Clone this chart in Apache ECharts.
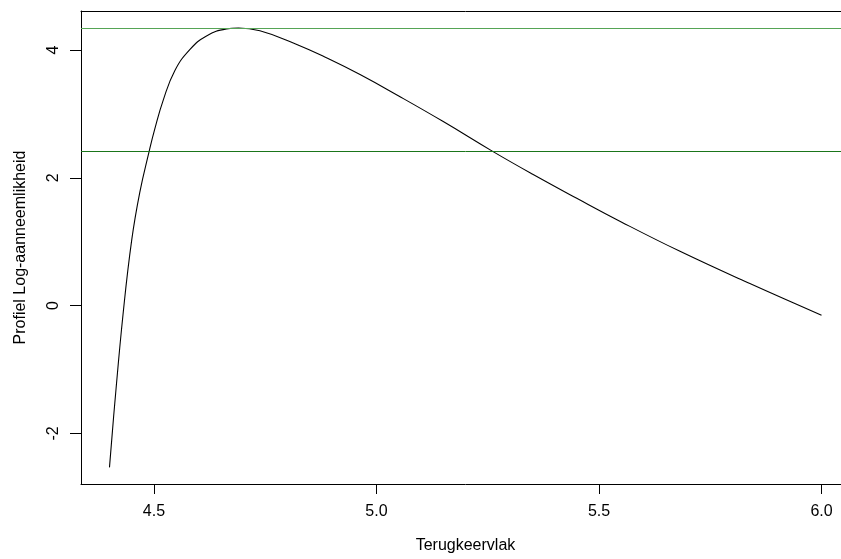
<!DOCTYPE html>
<html>
<head>
<meta charset="utf-8">
<script src="https://cdn.jsdelivr.net/npm/echarts@6/dist/echarts.min.js"></script>
<style>
  html, body { margin: 0; padding: 0; background: #fff; overflow: hidden; }
  #chart { width: 860px; height: 559px; }
</style>
</head>
<body>
<div id="chart"></div>
<script>
// Profile log-likelihood over the return-level parameter
const returnLevel = [4.40, 4.412, 4.431, 4.450, 4.468, 4.489, 4.502, 4.521, 4.547, 4.581,
  4.618, 4.663, 4.69, 4.738, 4.813, 4.89, 4.963, 5.05, 5.15, 5.262, 5.35, 5.45, 5.55,
  5.682, 5.839, 6.0];
const profileLogLik = [-2.53, -1.52, -0.10, 1.03, 1.77, 2.41, 2.77, 3.22, 3.68, 4.01,
  4.22, 4.33, 4.345, 4.30, 4.11, 3.87, 3.615, 3.28, 2.88, 2.41, 2.06, 1.68, 1.31,
  0.85, 0.345, -0.15];

// Horizontal reference levels: maximum and the 95% cut-off
const maxLevel = 4.345;
const cutoffLevel = 2.425;

const xTicks = [4.5, 5.0, 5.5, 6.0];
const yTicks = [-2, 0, 2, 4];

const xTitle = 'Terugkeervlak';
const yTitle = 'Profiel Log-aanneemlikheid';

const points = returnLevel.map((x, i) => [x, profileLogLik[i]]);

const font = '"Liberation Sans", Arial, sans-serif';
const xRange = { min: 4.336, max: 6.064 };
const frameLine = { show: true, onZero: false, lineStyle: { color: '#000', width: 1 } };

const chart = echarts.init(document.getElementById('chart'), null, { renderer: 'canvas' });
chart.setOption({
  animation: false,
  backgroundColor: '#fff',
  grid: { left: 81, top: 11, right: 10, bottom: 75, show: false },
  xAxis: [{
    type: 'value',
    position: 'bottom',
    min: xRange.min, max: xRange.max,
    name: xTitle,
    nameLocation: 'middle',
    nameGap: 54,
    nameTextStyle: { fontFamily: font, fontSize: 16, color: '#000' },
    axisLine: frameLine,
    splitLine: { show: false },
    axisTick: { show: true, inside: false, length: 10, customValues: xTicks,
      lineStyle: { color: '#000', width: 1 } },
    axisLabel: { customValues: xTicks, margin: 20, fontFamily: font, fontSize: 16, color: '#000',
      formatter: v => v.toFixed(1) }
  }, {
    // top edge of the plot frame
    type: 'value',
    position: 'top',
    min: xRange.min, max: xRange.max,
    axisLine: frameLine,
    axisTick: { show: false },
    axisLabel: { show: false },
    splitLine: { show: false }
  }],
  yAxis: {
    type: 'value',
    min: -2.79, max: 4.61,
    name: yTitle,
    nameLocation: 'middle',
    nameGap: 52,
    nameRotate: 90,
    nameTextStyle: { fontFamily: font, fontSize: 16, color: '#000' },
    axisLine: frameLine,
    splitLine: { show: false },
    axisTick: { show: true, inside: false, length: 11, customValues: yTicks,
      lineStyle: { color: '#000', width: 1 } },
    axisLabel: { customValues: yTicks, margin: 19, rotate: 90, fontFamily: font, fontSize: 16,
      color: '#000', formatter: v => String(v) }
  },
  series: [{
    type: 'line',
    data: points,
    showSymbol: false,
    smooth: 0.45,
    lineStyle: { color: '#000', width: 1.1 },
    markLine: {
      silent: true,
      symbol: 'none',
      label: { show: false },
      data: [
        { yAxis: maxLevel, lineStyle: { color: '#55a455', width: 1.2, type: 'solid' } },
        { yAxis: cutoffLevel, lineStyle: { color: '#1a751a', width: 1, type: 'solid' } }
      ]
    }
  }]
});
</script>
</body>
</html>
